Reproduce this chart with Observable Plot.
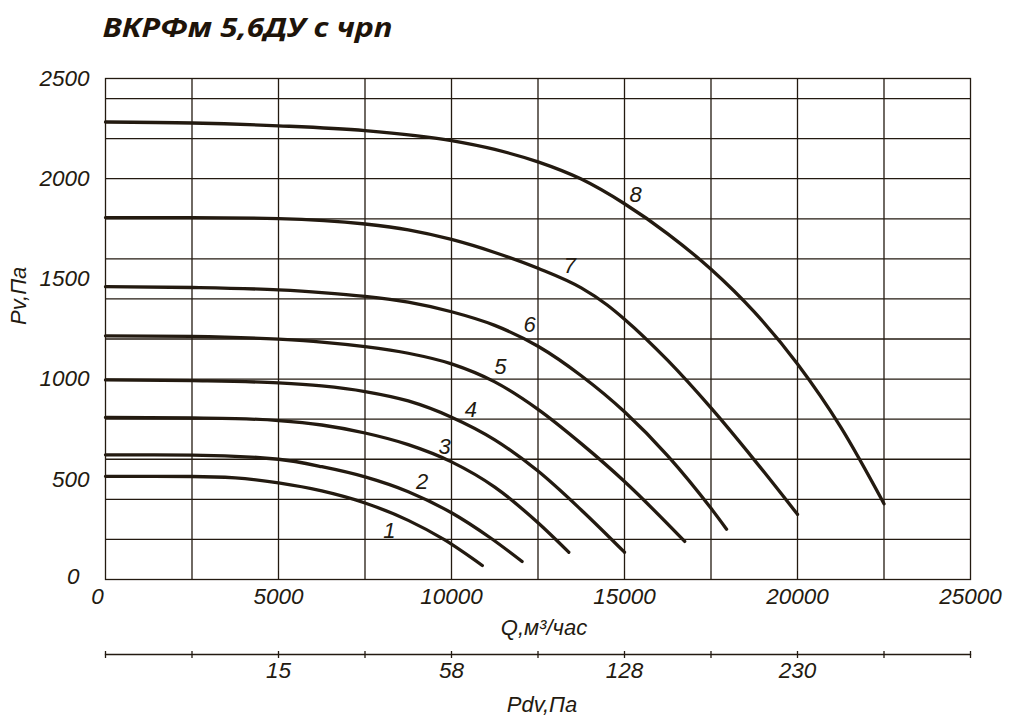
<!DOCTYPE html>
<html>
<head>
<meta charset="utf-8">
<script src="https://cdn.jsdelivr.net/npm/d3@7"></script>
<script src="https://cdn.jsdelivr.net/npm/@observablehq/plot@0.6"></script>
<style>
  html, body { margin: 0; padding: 0; background: #ffffff; }
  #chart svg { display: block; }
</style>
</head>
<body>
<div id="chart"></div>
<script>
// ---- data ----
const titleText = "ВКРФм 5,6ДУ с чрп";
const xLabel = "Q,м³/час";
const yLabel = "Pv,Па";
const pdvLabel = "Pdv,Па";

const xTicks = [5000, 10000, 15000, 20000, 25000];
const xZeroTick = [0];
const xGrid = [2500, 5000, 7500, 10000, 12500, 15000, 17500, 20000, 22500];
const yTicks = [500, 1000, 1500, 2000, 2500];
const yZeroTick = [0];
const yGrid = [200, 400, 600, 800, 1000, 1200, 1400, 1600, 1800, 2000, 2200, 2400];
const pdvTicks = [0, 2500, 5000, 7500, 10000, 12500, 15000, 17500, 20000, 22500, 25000];
const pdvTickQ = [5000, 10000, 15000, 20000];
const pdvTickText = ["15", "58", "128", "230"];

const seriesNames = ["1", "2", "3", "4", "5", "6", "7", "8"];
const q1 = [0, 2500, 3750, 5000, 6250, 7500, 8750, 9780, 10890];
const p1 = [515, 514, 507, 482, 442, 382, 295, 200, 70];
const q2 = [0, 2500, 5000, 6250, 7500, 8750, 10000, 11130, 12040];
const p2 = [622, 621, 600, 563, 512, 438, 333, 207, 90];
const q3 = [0, 2500, 3750, 5000, 6250, 7500, 8750, 10000, 11250, 12500, 13390];
const p3 = [809, 806, 803, 793, 771, 731, 673, 587, 461, 283, 136];
const q4 = [0, 2500, 5000, 6250, 7500, 8750, 10000, 11250, 12500, 13750, 15000];
const p4 = [996, 992, 981, 966, 938, 891, 810, 697, 541, 347, 136];
const q5 = [0, 2500, 5000, 6250, 7500, 8750, 10000, 11250, 12500, 13750, 15000, 16740];
const p5 = [1216, 1213, 1199, 1185, 1162, 1129, 1076, 986, 849, 678, 489, 190];
const q6 = [0, 2500, 5000, 6250, 7500, 8750, 10000, 11250, 12500, 13750, 15000, 16250, 17500, 17950];
const p6 = [1461, 1457, 1445, 1432, 1413, 1384, 1336, 1268, 1164, 1017, 837, 617, 355, 251];
const q7 = [0, 2500, 5000, 7500, 8750, 10000, 11250, 12500, 13750, 14500, 15000, 16250, 17500, 18750, 20000];
const p7 = [1806, 1806, 1801, 1774, 1745, 1697, 1632, 1553, 1455, 1370, 1299, 1093, 856, 597, 325];
const q8 = [0, 2500, 5000, 7500, 10000, 11250, 12500, 13750, 15000, 16250, 17500, 18750, 20000, 21250, 22500];
const p8 = [2283, 2278, 2264, 2240, 2190, 2146, 2084, 1998, 1875, 1725, 1548, 1335, 1075, 760, 378];

const labelQ = [8208, 9150, 9800, 10560, 11416, 12260, 13420, 15320];
const labelP = [244, 489, 661, 848, 1059, 1271, 1565, 1920];

// ---- build tables ----
const qs = [q1, q2, q3, q4, q5, q6, q7, q8];
const ps = [p1, p2, p3, p4, p5, p6, p7, p8];
const curves = [];
qs.forEach((q, i) => q.forEach((v, j) => curves.push({series: seriesNames[i], q: v, p: ps[i][j]})));
const labels = seriesNames.map((s, i) => ({s, q: labelQ[i], p: labelP[i]}));
const pdvMap = new Map(pdvTickQ.map((q, i) => [q, pdvTickText[i]]));

const ink = "#231a10";
const numFont = "'Liberation Sans', Arial, sans-serif";
const fmt = d => String(d);

const chart = Plot.plot({
  width: 1009,
  height: 728,
  marginLeft: 105,
  marginRight: 39,
  marginTop: 78,
  marginBottom: 149,
  x: {domain: [0, 25000]},
  y: {domain: [0, 2500]},
  style: {fontFamily: numFont, fontStyle: "italic", color: ink, background: "#ffffff", overflow: "visible"},
  marks: [
    Plot.gridX(xGrid, {stroke: ink, strokeOpacity: 1, strokeWidth: 1.3}),
    Plot.gridY(yGrid, {stroke: ink, strokeOpacity: 1, strokeWidth: 1.3}),
    Plot.frame({stroke: ink, strokeWidth: 1.3}),
    Plot.axisY(yTicks, {tickSize: 0, tickPadding: 16, fontSize: 22.5, label: null, fill: ink, tickFormat: fmt}),
    Plot.axisY(yZeroTick, {tickSize: 0, tickPadding: 26, dy: -3, fontSize: 22.5, label: null, fill: ink, tickFormat: fmt}),
    Plot.axisX(xTicks, {tickSize: 0, tickPadding: 9, fontSize: 22.5, label: null, fill: ink, tickFormat: fmt}),
    Plot.axisX(xZeroTick, {tickSize: 0, tickPadding: 9, dx: -8, fontSize: 22.5, label: null, fill: ink, tickFormat: fmt}),
    // secondary Pdv axis
    Plot.frame({anchor: "bottom", dy: 75, stroke: ink, strokeWidth: 1.3}),
    Plot.axisX(pdvTicks, {anchor: "bottom", dy: 72, tickSize: 7, tickPadding: 4, fontSize: 22.5, label: null, stroke: ink, fill: ink, strokeWidth: 1.3, tickFormat: d => pdvMap.get(d) ?? ""}),
    Plot.line(curves, {x: "q", y: "p", z: "series", curve: "monotone-x", stroke: ink, strokeWidth: 3.3, strokeLinecap: "round", strokeLinejoin: "round"}),
    Plot.text(labels, {x: "q", y: "p", text: "s", fontSize: 22, fill: ink}),
    Plot.text([xLabel], {frameAnchor: "bottom", dx: 6, dy: 55, fontSize: 22, fill: ink}),
    Plot.text([pdvLabel], {frameAnchor: "bottom", dx: 4, dy: 132, fontSize: 22, fill: ink}),
    Plot.text([yLabel], {frameAnchor: "left", rotate: -90, dx: -87, dy: -4, fontSize: 22, fill: ink}),
    Plot.text([titleText], {className: "chart-title", frameAnchor: "top-left", textAnchor: "start", dx: -3, dy: -61, fontSize: 27, fontWeight: "bold", fontStyle: "italic", fontFamily: "'Noto Sans', 'Open Sans', sans-serif", fill: "#1e140a"})
  ]
});
const t = chart.querySelector("g.chart-title text");
if (t) { t.setAttribute("textLength", "290"); t.setAttribute("lengthAdjust", "spacingAndGlyphs"); }
document.getElementById("chart").append(chart);
</script>
</body>
</html>
